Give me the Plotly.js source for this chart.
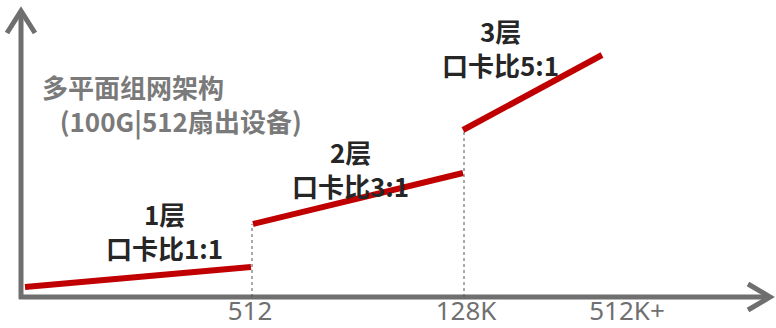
<!DOCTYPE html>
<html>
<head>
<meta charset="utf-8">
<script src="https://cdn.plot.ly/plotly-3.0.1.min.js"></script>
<style>html,body{margin:0;padding:0;background:#fff;}#chart{width:776px;height:328px;}</style>
</head>
<body>
<div id="chart"></div>
<script>
// Scale positions (arbitrary conceptual units) and cost levels
const layer1X = [0.4, 23.0];
const layer1Y = [1.0, 3.0];
const layer2X = [23.2, 44.2];
const layer2Y = [7.3, 12.4];
const layer3X = [44.2, 58.1];
const layer3Y = [16.7, 24.2];
const boundaryX = [23.1, 44.3];
const boundaryTop = [7.3, 16.7];
const tickVals = [22.9, 44.5, 60.6];
const tickText = ['512', '128K', '512K+'];
const layerNames = ['1层', '2层', '3层'];
const layerRatios = ['口卡比1:1', '口卡比3:1', '口卡比5:1'];
const yTitleLines = ['多平面组网架构', '(100G|512扇出设备)'];
const xTitle = '规模(卡)';

const RED = '#c00000';
const AX = '#6f6f6f';
const CJK = '"Noto Sans CJK SC", "Noto Sans", sans-serif';

const traces = [];
[[layer1X, layer1Y], [layer2X, layer2Y], [layer3X, layer3Y]].forEach(([x, y]) => {
  traces.push({x: x, y: y, type: 'scatter', mode: 'lines',
    line: {color: RED, width: 6}, hoverinfo: 'skip', showlegend: false});
});
boundaryX.forEach((bx, i) => {
  traces.push({x: [bx, bx], y: [0, boundaryTop[i]], type: 'scatter', mode: 'lines',
    line: {color: '#555', width: 1, dash: 'dot'}, hoverinfo: 'skip', showlegend: false});
});

const labelPos = [[14.3, 6.7], [32.9, 12.9], [47.9, 25.0]];
const annotations = layerNames.map((n, i) => ({
  x: labelPos[i][0], y: labelPos[i][1], xref: 'x', yref: 'y',
  text: '<b>' + n + '<br>' + layerRatios[i] + '</b>', showarrow: false,
  xanchor: 'center', yanchor: 'middle',
  font: {family: CJK, size: 26, color: '#262626'}
}));
annotations.push({x: 1.9, y: 19.3, xref: 'x', yref: 'y',
  text: '<b>' + yTitleLines[0] + '<br>&nbsp;&nbsp;&nbsp;' + yTitleLines[1] + '</b>',
  showarrow: false, xanchor: 'left', yanchor: 'middle', align: 'left',
  font: {family: CJK, size: 26, color: '#7a7a7a'}});
annotations.push({x: 75.2, y: 2.5, xref: 'x', yref: 'y', text: '<b>' + xTitle + '</b>',
  showarrow: false, xanchor: 'right', yanchor: 'middle',
  font: {family: CJK, size: 26, color: '#7a7a7a'}});

// axis lines with chevron arrows (paper coords; plot area 750x285 at l=21,t=12)
const W = 750, H = 285;
const px = v => (v - 21) / W;
const py = v => (297 - v) / H;
const axisLine = {color: AX, width: 5};
const shapes = [
  {type: 'line', xref: 'paper', yref: 'paper', x0: px(21), y0: py(299), x1: px(21), y1: py(12), line: axisLine, layer: 'below'},
  {type: 'path', xref: 'paper', yref: 'paper', line: axisLine,
    path: 'M' + px(7) + ',' + py(33) + ' L' + px(21) + ',' + py(11) + ' L' + px(35) + ',' + py(33)},
  {type: 'line', xref: 'paper', yref: 'paper', x0: px(19), y0: py(297), x1: px(768), y1: py(297), line: axisLine, layer: 'below'},
  {type: 'path', xref: 'paper', yref: 'paper', line: axisLine,
    path: 'M' + px(748) + ',' + py(284) + ' L' + px(770) + ',' + py(297) + ' L' + px(748) + ',' + py(310)}
];

const layout = {
  width: 776, height: 328,
  margin: {l: 21, r: 5, t: 12, b: 31},
  paper_bgcolor: '#fff', plot_bgcolor: '#fff',
  showlegend: false,
  xaxis: {range: [0, 75], showgrid: false, zeroline: false, showline: false,
    tickvals: tickVals, ticktext: tickText, ticks: '', ticklabelstandoff: -4,
    tickfont: {family: '"Noto Sans", sans-serif', size: 26, color: '#707070'}},
  yaxis: {range: [0, 28.5], showgrid: false, zeroline: false, showline: false, showticklabels: false, ticks: ''},
  annotations: annotations,
  shapes: shapes
};

Plotly.newPlot('chart', traces, layout, {staticPlot: true, displayModeBar: false});
</script>
</body>
</html>
